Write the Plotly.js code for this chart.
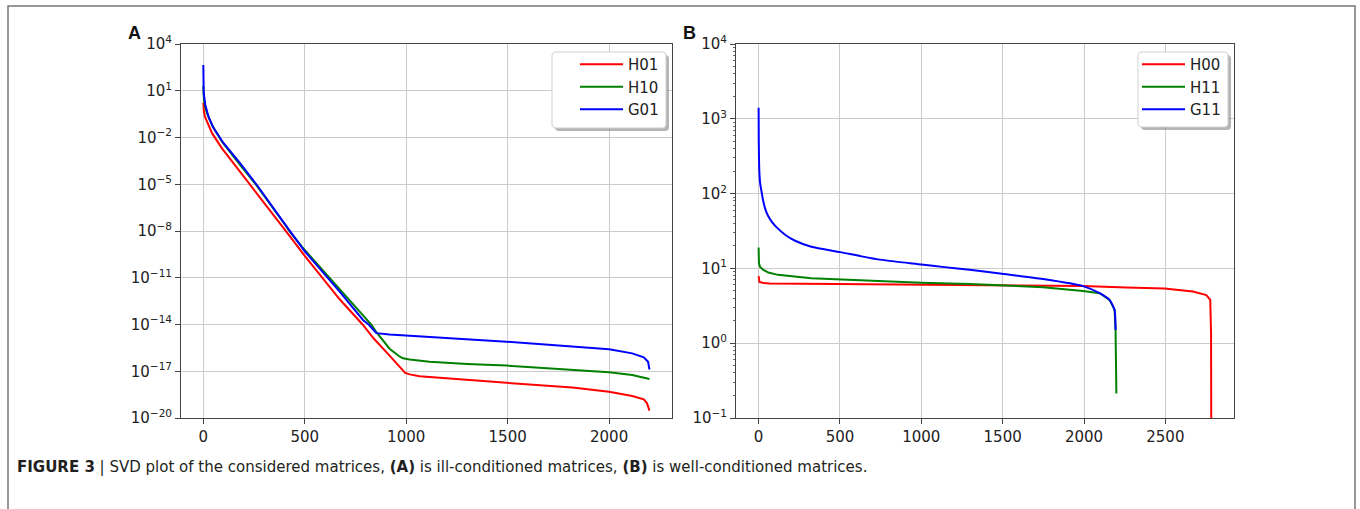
<!DOCTYPE html>
<html>
<head>
<meta charset="utf-8">
<script src="https://cdn.plot.ly/plotly-3.0.1.min.js"></script>
<style>html,body{margin:0;padding:0;background:#fff;}#chart{width:1360px;height:509px;}</style>
</head>
<body>
<div id="chart"></div>
<script>
// ---------- Panel A data (ill-conditioned) ----------
const xH01 = [0, 1, 3, 8, 18, 43, 92, 182, 264, 378, 427, 500, 673, 785, 840, 918, 967, 995, 1017, 1066, 1115, 1300, 1495, 1819, 2000, 2114, 2171, 2187, 2199];
const yH01 = [1.7, 1.0, 0.46, 0.22, 0.105, 1.9e-2, 2.0e-3, 6.3e-5, 2.8e-6, 3.2e-8, 4.5e-9, 2.5e-10, 4.0e-13, 1.0e-14, 1.26e-15, 1.0e-16, 2.0e-17, 7.9e-18, 6.3e-18, 4.8e-18, 4.2e-18, 2.75e-18, 1.86e-18, 8.9e-19, 4.9e-19, 2.6e-19, 1.58e-19, 8.7e-20, 3.0e-20];

const xH10 = [0, 1, 3, 8, 18, 43, 92, 182, 264, 395, 427, 500, 673, 804, 831, 853, 918, 967, 984, 1017, 1115, 1300, 1495, 2000, 2114, 2199];
const yH10 = [20, 6.3, 2.6, 1.0, 0.355, 0.063, 5.4e-3, 1.7e-4, 7.9e-6, 3.5e-8, 8.9e-9, 6.0e-10, 1.8e-12, 1.95e-14, 8.9e-15, 3.2e-15, 2.8e-16, 8.9e-17, 6.8e-17, 5.75e-17, 4.1e-17, 2.95e-17, 2.3e-17, 8.5e-18, 5.75e-18, 3.2e-18];

const xG01 = [0, 1, 2, 10, 26, 51, 100, 182, 264, 411, 500, 673, 787, 815, 836, 853, 918, 1000, 1115, 1495, 2000, 2114, 2171, 2192, 2199];
const yG01 = [450, 40, 6.9, 1.23, 0.21, 0.039, 4.3e-3, 2.2e-4, 8.9e-6, 1.9e-8, 5.0e-10, 1.26e-12, 1.95e-14, 1.0e-14, 4.5e-15, 2.8e-15, 2.3e-15, 2.0e-15, 1.5e-15, 7.9e-16, 2.6e-16, 1.4e-16, 7.9e-17, 4.1e-17, 1.3e-17];

// ---------- Panel B data (well-conditioned) ----------
const xH00 = [0, 2, 5, 30, 68, 477, 1000, 1297, 1994, 2260, 2495, 2669, 2752, 2776, 2781, 2783];
const yH00 = [7.9, 7.0, 6.6, 6.4, 6.3, 6.2, 6.1, 6.0, 5.8, 5.56, 5.37, 4.9, 4.4, 3.8, 1.35, 0.01];

const xH11 = [0, 2, 8, 27, 60, 119, 324, 502, 1000, 1297, 1496, 1748, 1994, 2096, 2157, 2188, 2194, 2199];
const yH11 = [19, 11.8, 10.5, 9.6, 8.8, 8.2, 7.4, 7.1, 6.45, 6.2, 5.9, 5.6, 5.0, 4.65, 3.8, 2.8, 1.5, 0.213];

const xG11 = [0, 1, 3, 6, 10, 16, 27, 40, 57, 85, 119, 165, 221, 324, 502, 733, 1000, 1143, 1297, 1496, 1748, 1994, 2096, 2157, 2188, 2194];
const yG11 = [1410, 500, 250, 170, 135, 112, 82, 63, 51, 41, 34, 28, 23.6, 19.5, 16.5, 13.2, 11.3, 10.4, 9.6, 8.5, 7.2, 5.8, 4.66, 3.8, 2.77, 1.5];

// ---------- Tick labels ----------
const yTickValsA = [1e4, 1e1, 1e-2, 1e-5, 1e-8, 1e-11, 1e-14, 1e-17, 1e-20];
const yTickTextA = ['10<sup>4</sup>', '10<sup>1</sup>', '10<sup>\u22122</sup>', '10<sup>\u22125</sup>', '10<sup>\u22128</sup>', '10<sup>\u221211</sup>', '10<sup>\u221214</sup>', '10<sup>\u221217</sup>', '10<sup>\u221220</sup>'];
const yTickValsB = [1e4, 1e3, 1e2, 1e1, 1e0, 1e-1];
const yTickTextB = ['10<sup>4</sup>', '10<sup>3</sup>', '10<sup>2</sup>', '10<sup>1</sup>', '10<sup>0</sup>', '10<sup>\u22121</sup>'];
const xTickValsA = [0, 500, 1000, 1500, 2000];
const xTickValsB = [0, 500, 1000, 1500, 2000, 2500];

const namesA = ['H01', 'H10', 'G01'];
const namesB = ['H00', 'H11', 'G11'];
const colors = ['#ff0000', '#008000', '#0000ff'];

// ---------- geometry helpers (page pixels -> paper) ----------
const W = 1360, H = 509;
const px = v => v / W;
const py = v => 1 - v / H;

function roundRectPath(x0, y0, x1, y1, r) {
  const X = v => px(v).toFixed(5), Y = v => py(v).toFixed(5);
  return 'M' + X(x0 + r) + ',' + Y(y0) + ' L' + X(x1 - r) + ',' + Y(y0) +
    ' Q' + X(x1) + ',' + Y(y0) + ' ' + X(x1) + ',' + Y(y0 + r) +
    ' L' + X(x1) + ',' + Y(y1 - r) +
    ' Q' + X(x1) + ',' + Y(y1) + ' ' + X(x1 - r) + ',' + Y(y1) +
    ' L' + X(x0 + r) + ',' + Y(y1) +
    ' Q' + X(x0) + ',' + Y(y1) + ' ' + X(x0) + ',' + Y(y1 - r) +
    ' L' + X(x0) + ',' + Y(y0 + r) +
    ' Q' + X(x0) + ',' + Y(y0) + ' ' + X(x0 + r) + ',' + Y(y0) + ' Z';
}

const lineW = 2;
const traces = [
  {x: xH01, y: yH01, name: namesA[0], line: {color: colors[0], width: lineW}, xaxis: 'x', yaxis: 'y', legend: 'legend'},
  {x: xH10, y: yH10, name: namesA[1], line: {color: colors[1], width: lineW}, xaxis: 'x', yaxis: 'y', legend: 'legend'},
  {x: xG01, y: yG01, name: namesA[2], line: {color: colors[2], width: lineW}, xaxis: 'x', yaxis: 'y', legend: 'legend'},
  {x: xH00, y: yH00, name: namesB[0], line: {color: colors[0], width: lineW}, xaxis: 'x2', yaxis: 'y2', legend: 'legend2'},
  {x: xH11, y: yH11, name: namesB[1], line: {color: colors[1], width: lineW}, xaxis: 'x2', yaxis: 'y2', legend: 'legend2'},
  {x: xG11, y: yG11, name: namesB[2], line: {color: colors[2], width: lineW, shape: 'spline', smoothing: 0.6}, xaxis: 'x2', yaxis: 'y2', legend: 'legend2'}
].map(t => Object.assign({type: 'scatter', mode: 'lines', hoverinfo: 'skip'}, t));

const tickFont = {family: 'DejaVu Sans, sans-serif', size: 15, color: '#222'};
const axisCommon = {
  showline: true, mirror: true, linecolor: '#444', linewidth: 1,
  ticks: 'outside', ticklen: 5, tickwidth: 1, tickcolor: '#444',
  showgrid: true, gridcolor: '#cbcbcb', gridwidth: 1,
  zeroline: false, tickfont: tickFont, fixedrange: true
};
const yDomain = [py(418), py(44)];

const legendCommon = {
  bgcolor: 'rgba(0,0,0,0)', borderwidth: 0, itemwidth: 43,
  font: {family: 'DejaVu Sans, sans-serif', size: 15, color: '#222'},
  xanchor: 'left', yanchor: 'top', tracegroupgap: 0, itemclick: false, itemdoubleclick: false
};

const layout = {
  width: W, height: H,
  margin: {l: 0, r: 0, t: 0, b: 0, pad: 0},
  paper_bgcolor: '#ffffff', plot_bgcolor: '#ffffff',
  showlegend: true,
  xaxis: Object.assign({}, axisCommon, {domain: [px(181), px(672)], range: [-110, 2310], anchor: 'y', tickmode: 'array', tickvals: xTickValsA}),
  yaxis: Object.assign({}, axisCommon, {domain: yDomain, type: 'log', range: [-20, 4], anchor: 'x', tickmode: 'array', tickvals: yTickValsA, ticktext: yTickTextA}),
  xaxis2: Object.assign({}, axisCommon, {domain: [px(736), px(1234)], range: [-139, 2922], anchor: 'y2', tickmode: 'array', tickvals: xTickValsB}),
  yaxis2: Object.assign({}, axisCommon, {domain: yDomain, type: 'log', range: [-1, 4], anchor: 'x2', tickmode: 'array', tickvals: yTickValsB, ticktext: yTickTextB,
    minor: {dtick: 'D1', ticks: 'outside', ticklen: 2.5, tickwidth: 0.8, tickcolor: '#444', showgrid: false}}),
  legend: Object.assign({}, legendCommon, {x: px(575), y: py(48)}),
  legend2: Object.assign({}, legendCommon, {x: px(1137), y: py(48)}),
  shapes: [
    // figure frame
    {type: 'rect', xref: 'paper', yref: 'paper', x0: px(8), x1: px(1355), y0: py(6), y1: py(530), line: {color: '#777', width: 1.5}, fillcolor: 'rgba(0,0,0,0)', layer: 'below'},
    // legend A shadow + box
    {type: 'path', xref: 'paper', yref: 'paper', path: roundRectPath(555, 55, 669, 131, 4), fillcolor: 'rgba(120,120,120,0.55)', line: {width: 0}, layer: 'above'},
    {type: 'path', xref: 'paper', yref: 'paper', path: roundRectPath(552, 52, 666, 128, 4), fillcolor: '#ffffff', line: {color: '#d0d0d0', width: 1}, layer: 'above'},
    // legend B shadow + box
    {type: 'path', xref: 'paper', yref: 'paper', path: roundRectPath(1141, 55, 1231, 130, 4), fillcolor: 'rgba(120,120,120,0.55)', line: {width: 0}, layer: 'above'},
    {type: 'path', xref: 'paper', yref: 'paper', path: roundRectPath(1138, 52, 1228, 127, 4), fillcolor: '#ffffff', line: {color: '#d0d0d0', width: 1}, layer: 'above'}
  ],
  annotations: [
    {text: '<b>A</b>', xref: 'paper', yref: 'paper', x: px(126), y: py(33), xanchor: 'left', yanchor: 'middle', showarrow: false,
      font: {family: 'Liberation Sans, Arial, sans-serif', size: 18, color: '#111'}},
    {text: '<b>B</b>', xref: 'paper', yref: 'paper', x: px(681), y: py(33), xanchor: 'left', yanchor: 'middle', showarrow: false,
      font: {family: 'Liberation Sans, Arial, sans-serif', size: 18, color: '#111'}},
    {text: '<b>FIGURE 3</b> | SVD plot of the considered matrices, <b>(A)</b> is ill-conditioned matrices, <b>(B)</b> is well-conditioned matrices.',
      xref: 'paper', yref: 'paper', x: px(15), y: py(466), xanchor: 'left', yanchor: 'middle', showarrow: false,
      font: {family: 'Liberation Sans Narrow, DejaVu Sans Condensed, Arial Narrow, sans-serif', size: 16.7, color: '#231f20'}}
  ]
};

Plotly.newPlot('chart', traces, layout, {staticPlot: true, displayModeBar: false});
</script>
</body>
</html>
